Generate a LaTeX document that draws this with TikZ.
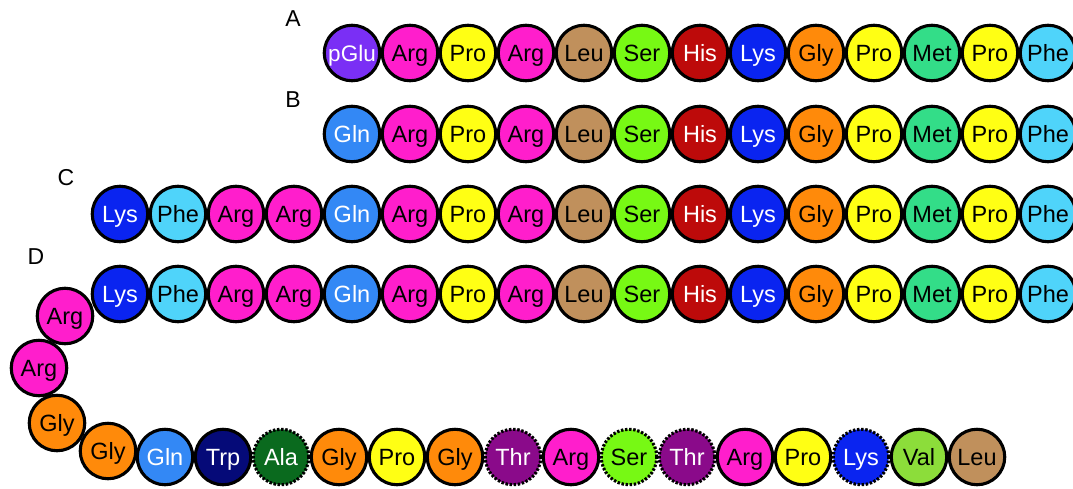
\documentclass[tikz,border=0pt]{standalone}
\usepackage{fontspec}
\setmainfont{Liberation Sans}
\definecolor{cpglu}{HTML}{7A2FF5}
\definecolor{carg}{HTML}{FF1ECC}
\definecolor{cpro}{HTML}{FFFF14}
\definecolor{cleu}{HTML}{C0905C}
\definecolor{cser}{HTML}{77F914}
\definecolor{chis}{HTML}{BD0A0A}
\definecolor{clys}{HTML}{0A24F0}
\definecolor{cgly}{HTML}{FF8A0A}
\definecolor{cmet}{HTML}{33DD88}
\definecolor{cphe}{HTML}{4FD4FA}
\definecolor{cgln}{HTML}{3388F5}
\definecolor{ctrp}{HTML}{050A78}
\definecolor{cala}{HTML}{0A6A1E}
\definecolor{cthr}{HTML}{8A0A8A}
\definecolor{cval}{HTML}{8CDD3A}
\tikzset{
  res/.style={circle, draw=black, line width=3.1pt, minimum size=55.5pt, inner sep=0pt,
    font=\fontsize{23.5}{26}\selectfont, text height=16.5pt, text depth=0pt},
  dres/.style={res, dash pattern=on 2.4pt off 1.7pt},
  lbl/.style={font=\fontsize{23}{25}\selectfont, inner sep=0pt},
}
\begin{document}
\begin{tikzpicture}[x=1pt,y=-1pt]
\useasboundingbox (0,0) rectangle (1073,488);
% labels
\node[lbl] (la) at (293,19) {A};
\node[lbl] (lb) at (293,100) {B};
\node[lbl] (lc) at (66,178) {C};
\node[lbl] (ld) at (36,257) {D};
% row A
\node[res, fill=cpglu, text=white, font=\fontsize{22.5}{25}\selectfont] (a0) at (352,53) {pGlu};
\foreach \n/\c/\t [count=\i from 1] in {Arg/carg/black,Pro/cpro/black,Arg/carg/black,Leu/cleu/black,Ser/cser/black,His/chis/white,Lys/clys/white,Gly/cgly/black,Pro/cpro/black,Met/cmet/black,Pro/cpro/black,Phe/cphe/black}
  \node[res, fill=\c, text=\t] (a\i) at (352+58*\i,53) {\n};
% row B
\foreach \n/\c/\t [count=\i from 0] in {Gln/cgln/white,Arg/carg/black,Pro/cpro/black,Arg/carg/black,Leu/cleu/black,Ser/cser/black,His/chis/white,Lys/clys/white,Gly/cgly/black,Pro/cpro/black,Met/cmet/black,Pro/cpro/black,Phe/cphe/black}
  \node[res, fill=\c, text=\t] (b\i) at (352+58*\i,134) {\n};
% row C
\foreach \n/\c/\t [count=\i from 0] in {Lys/clys/white,Phe/cphe/black,Arg/carg/black,Arg/carg/black,Gln/cgln/white,Arg/carg/black,Pro/cpro/black,Arg/carg/black,Leu/cleu/black,Ser/cser/black,His/chis/white,Lys/clys/white,Gly/cgly/black,Pro/cpro/black,Met/cmet/black,Pro/cpro/black,Phe/cphe/black}
  \node[res, fill=\c, text=\t] (c\i) at (120+58*\i,214) {\n};
% row D top
\foreach \n/\c/\t [count=\i from 0] in {Lys/clys/white,Phe/cphe/black,Arg/carg/black,Arg/carg/black,Gln/cgln/white,Arg/carg/black,Pro/cpro/black,Arg/carg/black,Leu/cleu/black,Ser/cser/black,His/chis/white,Lys/clys/white,Gly/cgly/black,Pro/cpro/black,Met/cmet/black,Pro/cpro/black,Phe/cphe/black}
  \node[res, fill=\c, text=\t] (d\i) at (120+58*\i,294) {\n};
% D curve
\node[res, fill=carg] (e1) at (65,316) {Arg};
\node[res, fill=carg] (e2) at (39,368) {Arg};
\node[res, fill=cgly] (e3) at (57,423) {Gly};
\node[res, fill=cgly] (e4) at (108,451) {Gly};
% D bottom row
\foreach \n/\c/\t/\s [count=\i from 0] in {Gln/cgln/white/res,Trp/ctrp/white/res,Ala/cala/white/dres,Gly/cgly/black/res,Pro/cpro/black/res,Gly/cgly/black/res,Thr/cthr/white/dres,Arg/carg/black/res,Ser/cser/black/dres,Thr/cthr/white/dres,Arg/carg/black/res,Pro/cpro/black/res,Lys/clys/white/dres,Val/cval/black/res,Leu/cleu/black/res}
  \node[\s, fill=\c, text=\t] (f\i) at (165+58*\i,457) {\n};
\end{tikzpicture}
\end{document}
